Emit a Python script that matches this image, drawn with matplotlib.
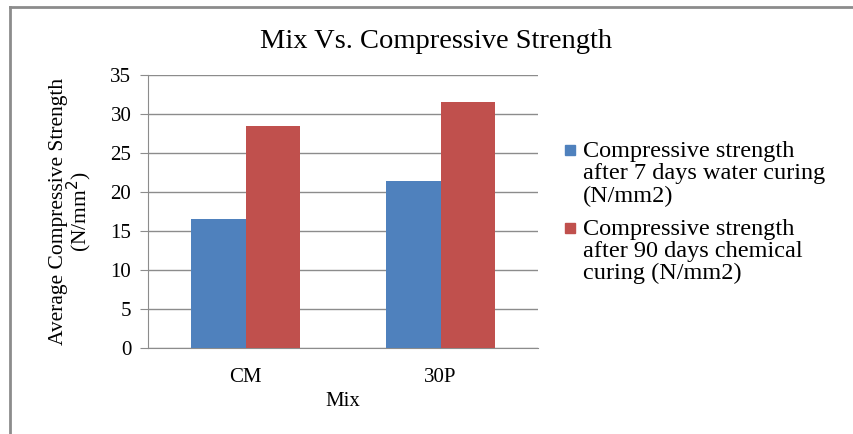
import numpy as np
import matplotlib.pyplot as plt
from matplotlib.lines import Line2D
from matplotlib.patches import Rectangle

plt.rcParams['font.family'] = ['Liberation Serif', 'DejaVu Serif']

# Data
mixes = ["CM", "30P"]
water_7d = [16.6, 21.4]       # after 7 days water curing
chemical_90d = [28.5, 31.5]   # after 90 days chemical curing
series_labels = [
    "Compressive strength\nafter 7 days water curing\n(N/mm2)",
    "Compressive strength\nafter 90 days chemical\ncuring (N/mm2)",
]
colors = ["#4F81BD", "#C0504D"]

fig = plt.figure(figsize=(8.54, 4.34), dpi=100)
ax = fig.add_axes([0.1733, 0.198, 0.4567, 0.629])

x = np.arange(len(mixes))
w = 0.28
ax.bar(x - w / 2, water_7d, w, color=colors[0], zorder=3)
ax.bar(x + w / 2, chemical_90d, w, color=colors[1], zorder=3)

ax.set_xlim(-0.5, 1.5)
ax.set_ylim(0, 35)
ax.set_yticks(range(0, 36, 5))
ax.set_xticks(x)
ax.set_xticklabels(mixes)
ax.yaxis.grid(True, color="#8c8c8c", linewidth=1, zorder=0)
for s in ["top", "right"]:
    ax.spines[s].set_visible(False)
for s in ["left", "bottom"]:
    ax.spines[s].set_color("#8c8c8c")
ax.tick_params(axis="y", length=6, color="#8c8c8c", labelsize=15, pad=6)
ax.tick_params(axis="x", length=0, labelsize=15, pad=14)

ax.set_xlabel("Mix", fontsize=15, labelpad=4)
ax.set_ylabel("Average Compressive Strength\n(N/mm$^2$)", fontsize=15.5,
              linespacing=0.85, labelpad=12)
fig.text(0.511, 0.905, "Mix Vs. Compressive Strength", fontsize=20.5,
         ha="center", va="center")

# Legend drawn by hand so that the swatch sits on the first text line
ly = [0.654, 0.475]
for lab, c, y in zip(series_labels, colors, ly):
    fig.patches.append(Rectangle((0.662, y - 0.011), 0.011, 0.022,
                                 transform=fig.transFigure, color=c))
    fig.text(0.683, y + 0.021, lab, fontsize=17.5, va="top", ha="left",
             linespacing=1.08)

# Outer chart frame (top and left edges)
fig.add_artist(Line2D([0.012, 0.999], [0.983, 0.983], color="#8c8c8c",
                      linewidth=2, transform=fig.transFigure))
fig.add_artist(Line2D([0.012, 0.012], [0.0, 0.983], color="#8c8c8c",
                      linewidth=2, transform=fig.transFigure))

fig.savefig("out.png", dpi=100)
